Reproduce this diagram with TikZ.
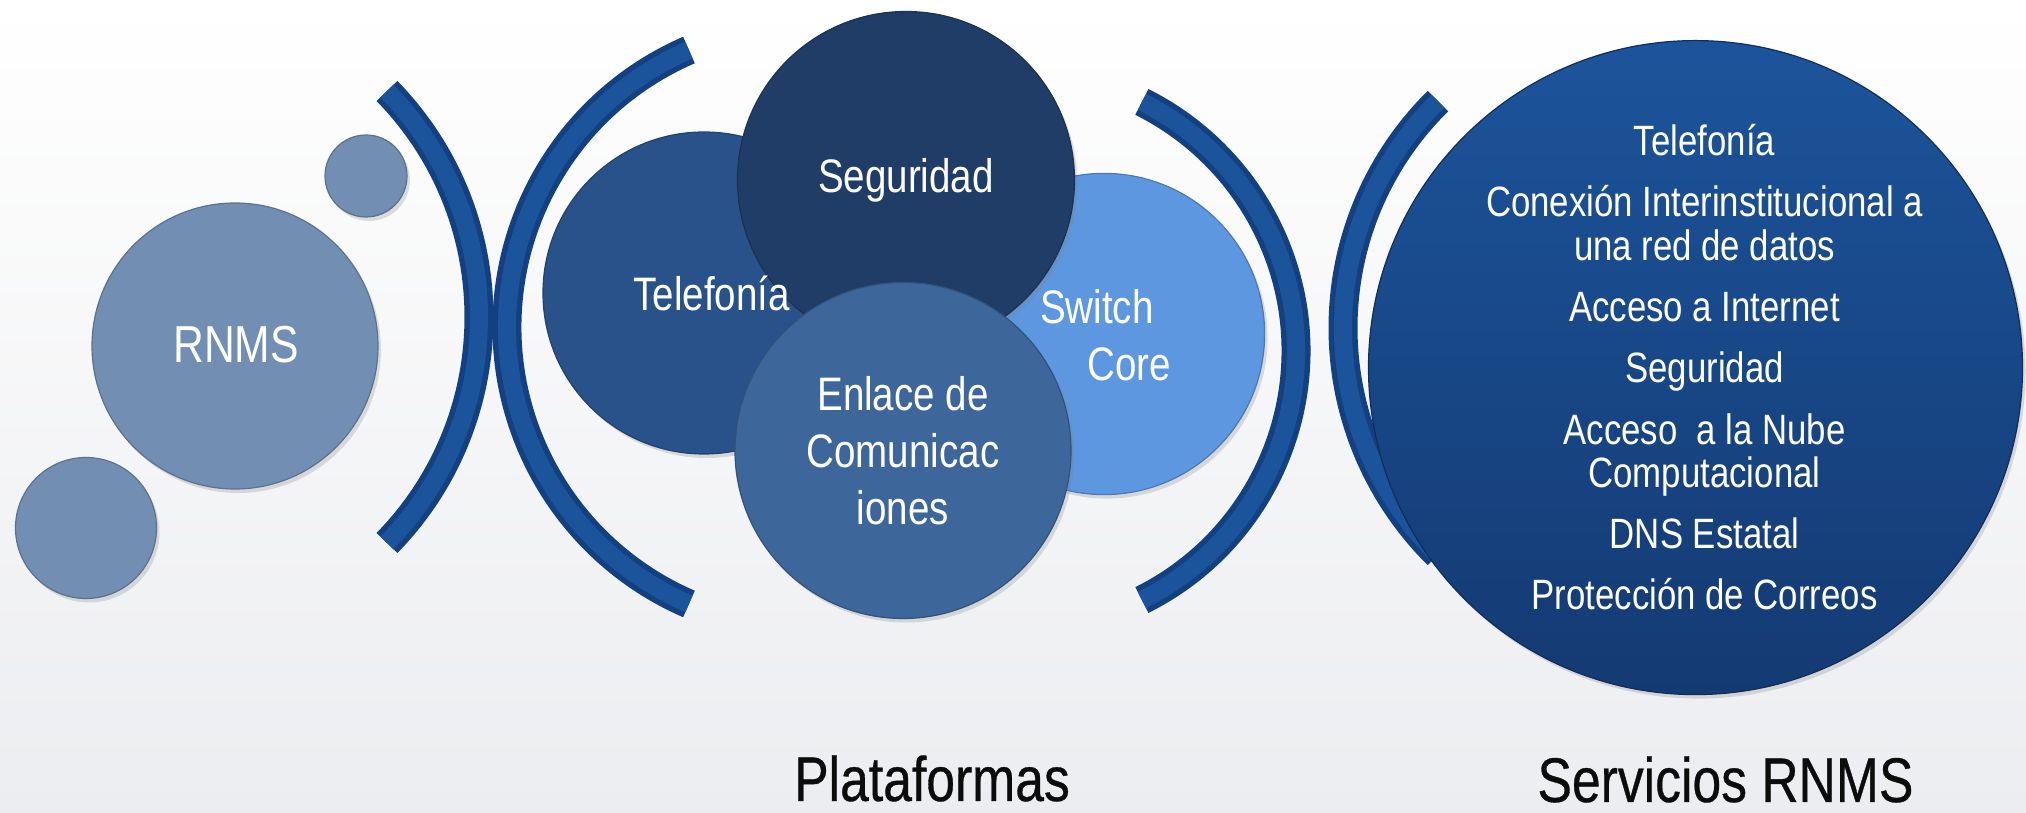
\documentclass[tikz,border=0pt]{standalone}
\usepackage{fontspec}
\setmainfont{Liberation Sans}[FakeStretch=0.82]
\newfontfamily\labelfont{Liberation Sans}[FakeStretch=0.82,FakeBold=0.5]
\usetikzlibrary{shadows}
\definecolor{bgbot}{RGB}{236,237,240}
\definecolor{rnmsc}{RGB}{114,142,178}
\definecolor{telc}{RGB}{40,82,137}
\definecolor{segc}{RGB}{31,61,103}
\definecolor{swc}{RGB}{92,151,224}
\definecolor{enc}{RGB}{61,102,154}
\definecolor{arcd}{RGB}{19,64,128}
\definecolor{arcl}{RGB}{28,84,156}
\definecolor{servt}{RGB}{28,84,155}
\definecolor{servb}{RGB}{20,58,114}
\definecolor{lblc}{RGB}{12,12,12}
\begin{document}
\begin{tikzpicture}[x=0.5pt,y=0.5pt,
  bubble/.style={circle, inner sep=0pt, draw=#1!80!black, line width=0.6pt, fill=#1,
    drop shadow={opacity=0.25, shadow xshift=1.5pt, shadow yshift=-2pt}},
  bandarc/.style={line width=14.5pt, line cap=butt, draw=arcd},
  bandhl/.style={line width=9pt, line cap=butt, draw=arcl},
  lbl/.style={text=white, inner sep=0pt, font=\fontsize{23.5}{28}\selectfont},
  svc/.style={text=white, inner sep=0pt, anchor=base, font=\fontsize{21.2}{25}\selectfont},
  bottomlbl/.style={text=lblc, inner sep=0pt, anchor=base, font=\labelfont\fontsize{31.5}{36}\selectfont}
]
\useasboundingbox (0,0) rectangle (2026,813);
\shade[top color=white, middle color=white, bottom color=bgbot] (0,0) rectangle (2026,813);

% bands
\draw[bandarc] (155.4,496) ++(-44.3:161.8pt) arc[start angle=-44.3, end angle=44.3, radius=161.8pt];
\draw[bandhl]  (155.4,496) ++(-44.3:161.8pt) arc[start angle=-44.3, end angle=44.3, radius=161.8pt];
\draw[bandarc] (808.8,486) ++(113.4:150.9pt) arc[start angle=113.4, end angle=246.6, radius=150.9pt];
\draw[bandhl]  (808.8,486) ++(113.4:150.9pt) arc[start angle=113.4, end angle=246.6, radius=150.9pt];
\draw[bandarc] (1017.7,462) ++(-63.5:139.15pt) arc[start angle=-63.5, end angle=63.5, radius=139.15pt];
\draw[bandhl]  (1017.7,462) ++(-63.5:139.15pt) arc[start angle=-63.5, end angle=63.5, radius=139.15pt];
\draw[bandarc] (1661.7,485) ++(134.6:159.35pt) arc[start angle=134.6, end angle=225.4, radius=159.35pt];
\draw[bandhl]  (1661.7,485) ++(134.6:159.35pt) arc[start angle=134.6, end angle=225.4, radius=159.35pt];

% circles
\node[bubble=rnmsc, minimum size=41pt] (s1) at (366,637) {};
\node[bubble=rnmsc, minimum size=70.5pt] (s2) at (86,285) {};
\node[bubble=rnmsc, minimum size=143pt] (rnms) at (235,467) {};
\node[bubble=telc, minimum size=161pt] (tel) at (704,520) {};
\node[bubble=swc, minimum size=160.6pt] (sw) at (1104,479) {};
\node[bubble=segc, minimum size=168.5pt] (seg) at (906,633) {};
\node[bubble=enc, minimum size=168pt] (enl) at (903,362.5) {};
\node[circle, inner sep=0pt, minimum size=327pt, top color=servt, bottom color=servb,
  draw=servb!80!black, line width=0.6pt,
  drop shadow={opacity=0.25, shadow xshift=1.5pt, shadow yshift=-2pt}] (serv) at (1695.5,445.4) {};

% texts
\node[lbl, anchor=base, font=\fontsize{26}{30}\selectfont] (trnms) at (236,450) {RNMS};
\node[lbl, anchor=base] (ttel) at (711.5,502) {Telefonía};
\node[lbl, anchor=base] (tseg) at (906,620) {Seguridad};
\node[lbl, anchor=base west] (tsw1) at (1039.7,489) {Switch};
\node[lbl, anchor=base west] (tsw2) at (1087,432) {Core};
\node[lbl, anchor=base] (ten1) at (903,402.4) {Enlace de};
\node[lbl, anchor=base] (ten2) at (903,345.3) {Comunicac};
\node[lbl, anchor=base] (ten3) at (903,288.3) {iones};

\node[svc] (v1) at (1704.5,657.5) {Telefonía};
\node[svc] (v2) at (1704.5,596.3) {Conexión Interinstitucional a};
\node[svc] (v3) at (1704.5,552.7) {una red de datos};
\node[svc] (v4) at (1704.5,491.5) {Acceso a Internet};
\node[svc] (v5) at (1704.5,430.4) {Seguridad};
\node[svc] (v6) at (1704.5,368.1) {Acceso~ a la Nube};
\node[svc] (v7) at (1704.5,325.6) {Computacional};
\node[svc] (v8) at (1704.5,264.4) {DNS Estatal};
\node[svc] (v9) at (1704.5,203.8) {Protección de Correos};

\node[bottomlbl] (plat) at (932,12) {Plataformas};
\node[bottomlbl] (servl) at (1725.5,11) {Servicios RNMS};
\end{tikzpicture}
\end{document}
